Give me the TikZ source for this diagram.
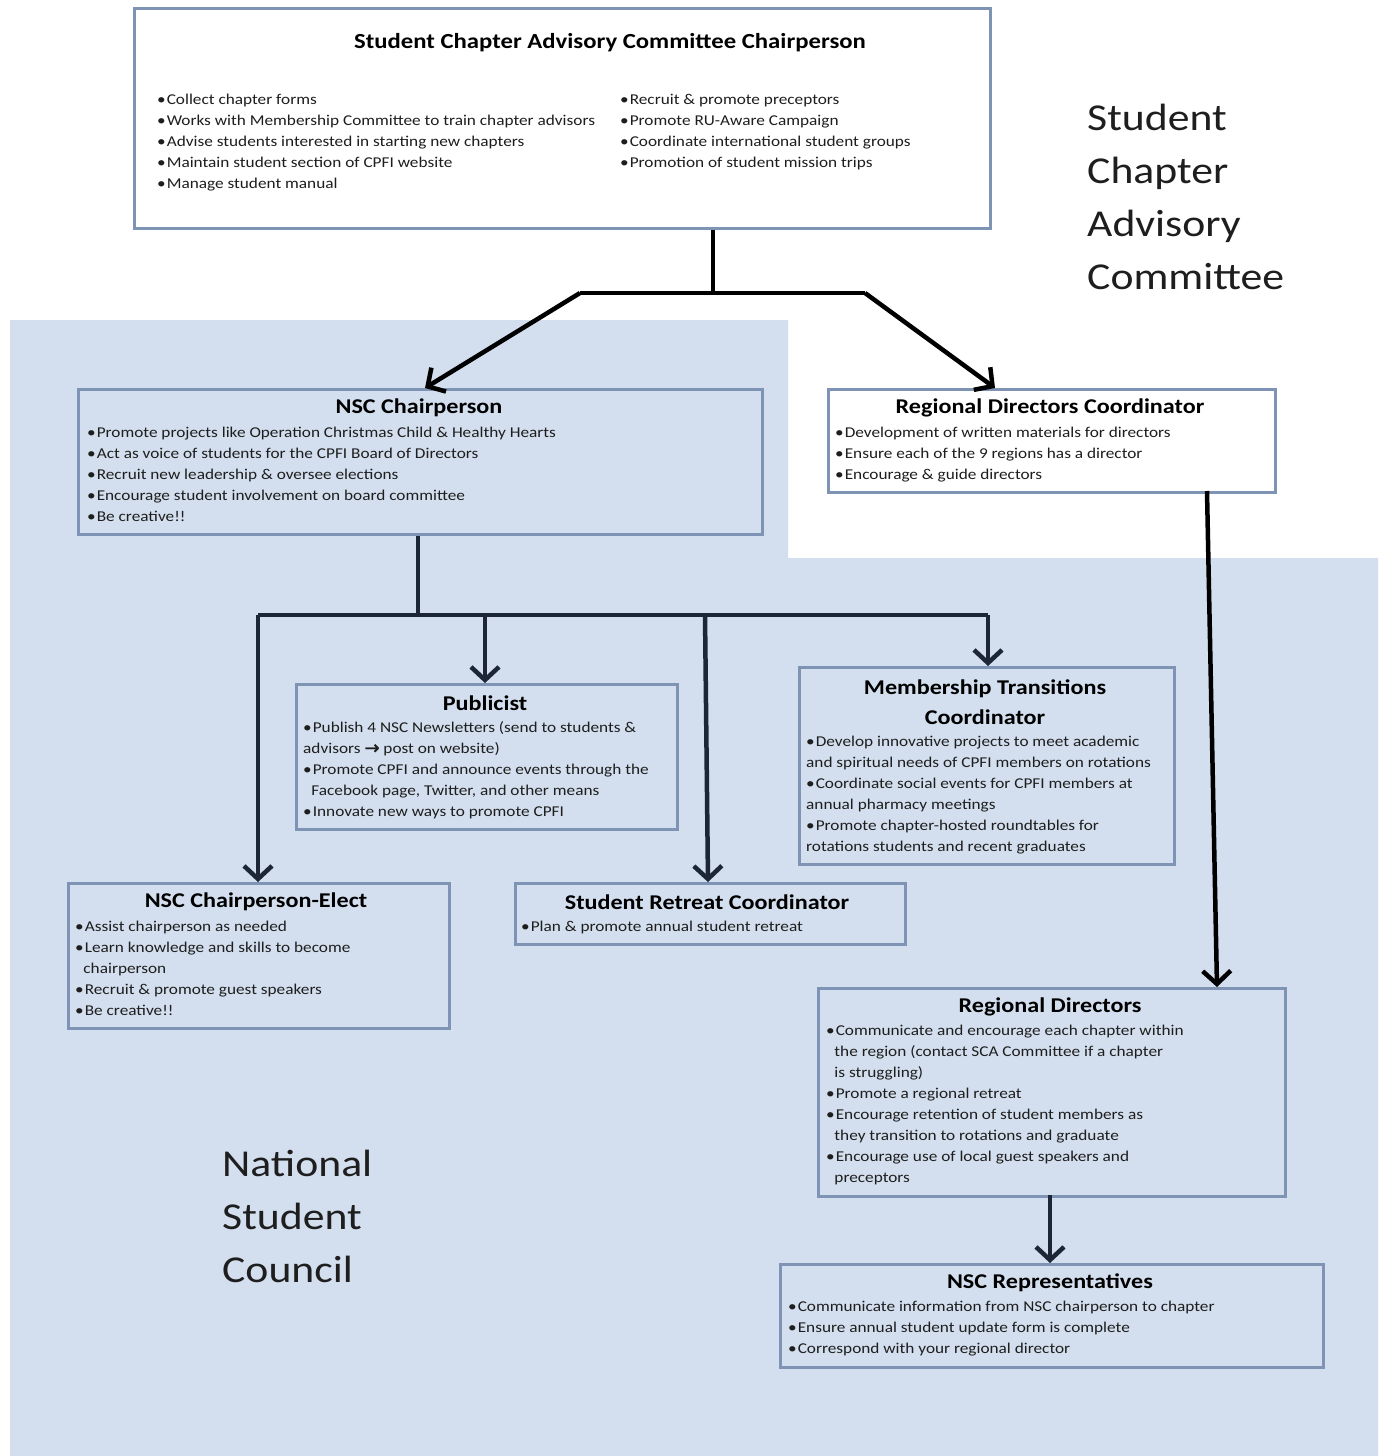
\documentclass[tikz,border=0pt]{standalone}
\usepackage{fontspec}
\setmainfont{Carlito}[FakeStretch=1.15]
\newfontfamily\arrowfont{DejaVu Sans}[FakeBold=1.5]
\usetikzlibrary{arrows.meta}
\definecolor{bgblue}{HTML}{D3DFEE}
\definecolor{bordc}{HTML}{7F94B4}
\definecolor{arrc}{HTML}{1C2636}
\definecolor{txtc}{HTML}{1E1E1E}
\tikzset{
  box/.style={draw=bordc, line width=3pt, fill=bgblue, anchor=north west, inner sep=0pt},
  wbox/.style={box, fill=white},
  ttl/.style={font=\fontsize{21}{30}\selectfont\bfseries, anchor=center, inner sep=0pt, align=center, text=black},
  body/.style={font=\fontsize{15}{21}\selectfont, anchor=north west, align=left, inner sep=0pt, text=txtc},
  biglbl/.style={font=\fontsize{38}{53}\selectfont, anchor=north west, align=left, inner sep=0pt, text=txtc},
  conn/.style={draw=arrc, line width=4.5pt},
  arr/.style={conn, -{Straight Barb[length=13pt,width=28pt]}},
  bconn/.style={draw=black, line width=4.5pt},
  barr/.style={bconn, -{Straight Barb[length=13pt,width=28pt]}},
}
\newcommand{\bl}{\textbullet\kern1pt}
\newcommand{\ind}{\hspace*{0.55em}}
\newcommand{\rarr}{{\arrowfont\fontsize{18}{21}\selectfont →}}
\begin{document}
\begin{tikzpicture}[x=1pt,y=-1pt]
\useasboundingbox (0,0) rectangle (1384,1456);
\fill[white] (0,0) rectangle (1384,1456);
% background region
\fill[bgblue] (10,320) -- (788,320) -- (788,558) -- (1378,558) -- (1378,1456) -- (10,1456) -- cycle;

% ---------- boxes ----------
\node[wbox, minimum width=856pt, minimum height=220pt] (top) at (133,7) {};
\node[ttl, font=\fontsize{21.5}{26}\selectfont\bfseries] (topT) at (610,43) {Student Chapter Advisory Committee Chairperson};
\node[body] (topL) at (157,90) {\strut\bl Collect chapter forms\\
\bl Works with Membership Committee to train chapter advisors\\
\bl Advise students interested in starting new chapters\\
\bl Maintain student section of CPFI website\\
\bl Manage student manual};
\node[body] (topR) at (620,90) {\strut\bl Recruit \& promote preceptors\\
\bl Promote RU-Aware Campaign\\
\bl Coordinate international student groups\\
\bl Promotion of student mission trips};

\node[box, minimum width=684pt, minimum height=145pt] (nscc) at (77,388) {};
\node[ttl] (nsccT) at (419,408) {NSC Chairperson};
\node[body] (nsccB) at (87,423) {\strut\bl Promote projects like Operation Christmas Child \& Healthy Hearts\\
\bl Act as voice of students for the CPFI Board of Directors\\
\bl Recruit new leadership \& oversee elections\\
\bl Encourage student involvement on board committee\\
\bl Be creative!!};

\node[wbox, minimum width=447pt, minimum height=103pt] (rdc) at (827,388) {};
\node[ttl] (rdcT) at (1050,408) {Regional Directors Coordinator};
\node[body] (rdcB) at (835,423) {\strut\bl Development of written materials for directors\\
\bl Ensure each of the 9 regions has a director\\
\bl Encourage \& guide directors};

\node[box, minimum width=381pt, minimum height=145pt] (pub) at (295,683) {};
\node[ttl] (pubT) at (485,703) {Publicist};
\node[body] (pubB) at (303,718) {\strut\bl Publish 4 NSC Newsletters (send to students \&\\
advisors \rarr\ post on website)\\
\bl Promote CPFI and announce events through the\\
\ind Facebook page, Twitter, and other means\\
\bl Innovate new ways to promote CPFI};

\node[box, minimum width=375pt, minimum height=197pt] (mem) at (798,666) {};
\node[ttl] (memT) at (985,702) {Membership Transitions\\Coordinator};
\node[body] (memB) at (806,732) {\strut\bl Develop innovative projects to meet academic\\
and spiritual needs of CPFI members on rotations\\
\bl Coordinate social events for CPFI members at\\
annual pharmacy meetings\\
\bl Promote chapter-hosted roundtables for\\
rotations students and recent graduates};

\node[box, minimum width=381pt, minimum height=145pt] (elect) at (67,882) {};
\node[ttl] (electT) at (256,902) {NSC Chairperson-Elect};
\node[body] (electB) at (75,917) {\strut\bl Assist chairperson as needed\\
\bl Learn knowledge and skills to become\\
\ind chairperson\\
\bl Recruit \& promote guest speakers\\
\bl Be creative!!};

\node[box, minimum width=390pt, minimum height=61pt] (ret) at (514,882) {};
\node[ttl] (retT) at (707,902) {Student Retreat Coordinator};
\node[body] (retB) at (521,917) {\strut\bl Plan \& promote annual student retreat};

\node[box, minimum width=467pt, minimum height=208pt] (rd) at (817,987) {};
\node[ttl] (rdT) at (1050,1007) {Regional Directors};
\node[body] (rdB) at (826,1021) {\strut\bl Communicate and encourage each chapter within\\
\ind the region (contact SCA Committee if a chapter\\
\ind is struggling)\\
\bl Promote a regional retreat\\
\bl Encourage retention of student members as\\
\ind they transition to rotations and graduate\\
\bl Encourage use of local guest speakers and\\
\ind preceptors};

\node[box, minimum width=543pt, minimum height=103pt] (rep) at (779,1263) {};
\node[ttl] (repT) at (1050,1283) {NSC Representatives};
\node[body] (repB) at (788,1297) {\strut\bl Communicate information from NSC chairperson to chapter\\
\bl Ensure annual student update form is complete\\
\bl Correspond with your regional director};

% ---------- big labels ----------
\node[biglbl] (scac) at (1087,93) {\strut Student\\Chapter\\Advisory\\Committee};
\node[biglbl] (nscl) at (222,1139) {\strut National\\Student\\Council};

% ---------- connectors ----------
\coordinate (j0) at (713,293);
\coordinate (jl) at (580,293);
\coordinate (jr) at (865,293);
\coordinate (tN) at (425,388);
\coordinate (tR) at (995,388);
\draw[bconn] (top.south -| j0) -- (j0);
\draw[bconn] (jl) -- (jr);
\draw[barr] (jl) -- (tN);
\draw[barr] (jr) -- (tR);

\coordinate (rdcS) at (1207,491);
\coordinate (rdN) at (1217,987);
\draw[barr] (rdcS) -- (rdN);

\coordinate (k0) at (418,615);
\coordinate (k1) at (258,615);
\coordinate (k2) at (485,615);
\coordinate (k3) at (705,615);
\coordinate (k4) at (988,615);
\draw[conn] (nscc.south -| k0) -- (k0);
\draw[conn] (k1) -- (k4);
\draw[arr] (k1) -- (elect.north -| k1);
\draw[arr] (k2) -- (pub.north -| k2);
\coordinate (retN) at (708,882);
\draw[arr] (k3) -- (retN);
\draw[arr] (k4) -- (mem.north -| k4);

\coordinate (rdS) at (1050,1195);
\draw[arr] (rdS) -- (rep.north -| rdS);
\end{tikzpicture}
\end{document}
